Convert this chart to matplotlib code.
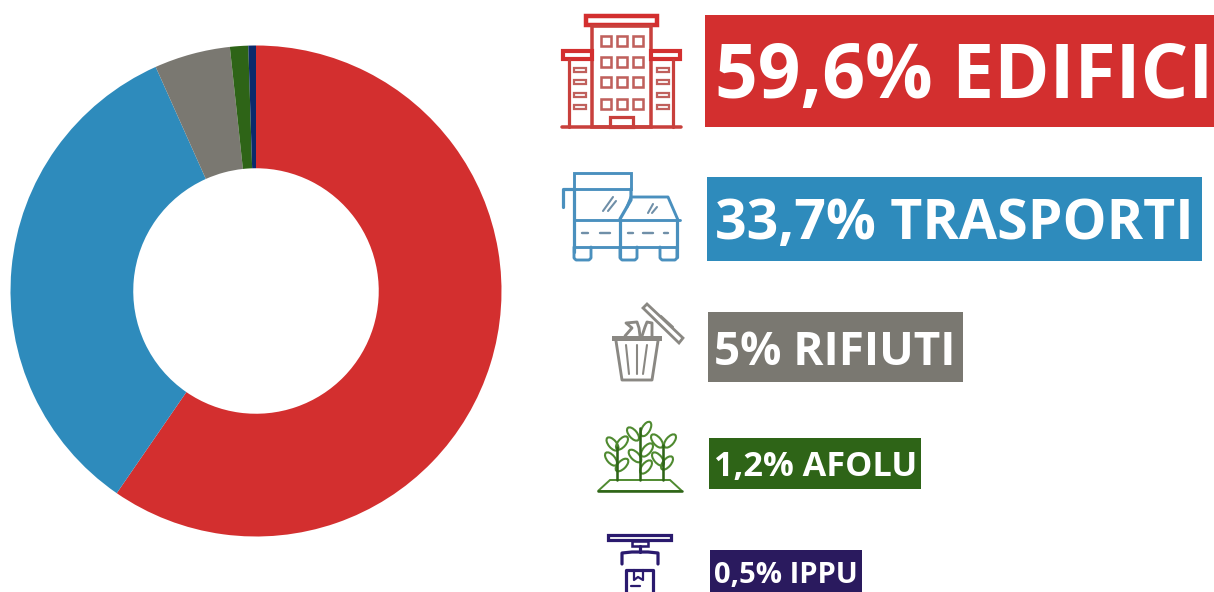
import matplotlib
matplotlib.use("Agg")
import matplotlib.pyplot as plt
from matplotlib.patches import Rectangle, Polygon, Ellipse

categories = ["EDIFICI", "TRASPORTI", "RIFIUTI", "AFOLU", "IPPU"]
values = [59.6, 33.7, 5, 1.2, 0.5]
value_labels = ["59,6%", "33,7%", "5%", "1,2%", "0,5%"]
pie_colors = ["#D32F2F", "#2E8BBC", "#7A7871", "#2E6417", "#0B2A6B"]
box_colors = ["#D32F2F", "#2E8BBC", "#7A7871", "#2E6417", "#2A1A5E"]
font_sizes = [54, 39.9, 33, 24.7, 21]
# label boxes in pixels: left, top, right, bottom, text left, text centre
boxes = [(705, 15, 1214, 127, 715, 70), (707, 177, 1202, 261, 715, 218), (708, 312, 963, 382, 714, 347),
         (709, 438, 921, 489, 714, 463.5), (710, 550, 862, 592, 714, 572)]

W, H = 1214, 592
plt.rcParams['font.family'] = ['Open Sans', 'DejaVu Sans']
fig = plt.figure(figsize=(W / 100, H / 100), dpi=100, facecolor="white")

# donut
cx, cy, r = 256, 291, 245.5
ax = fig.add_axes([(cx - r) / W, 1 - (cy + r) / H, 2 * r / W, 2 * r / H])
ax.pie(values, colors=pie_colors, startangle=90, counterclock=False, radius=1,
       wedgeprops=dict(width=0.5, linewidth=0))
ax.set_xlim(-1, 1); ax.set_ylim(-1, 1)
ax.set_aspect("auto")

# pixel overlay
ov = fig.add_axes([0, 0, 1, 1], facecolor="none")
ov.set_xlim(0, W); ov.set_ylim(H, 0); ov.axis("off")

for (x0, y0, x1, y1, tx, ty), col, fs, lab, cat in zip(boxes, box_colors, font_sizes, value_labels, categories):
    ov.add_patch(Rectangle((x0, y0), x1 - x0, y1 - y0, fc=col, ec="none"))
    ov.text(tx, ty, f"{lab} {cat}", color="white", fontsize=fs, fontweight="bold",
            va="center_baseline", ha="left")

K = 1.15


def line(pts, col, lw=2.0):
    xs, ys = zip(*pts)
    ov.plot(xs, ys, color=col, lw=lw * K, solid_capstyle="round", solid_joinstyle="round")


def rect(x0, y0, x1, y1, col, lw=2.0):
    ov.add_patch(Rectangle((x0, y0), x1 - x0, y1 - y0, fc="none", ec=col, lw=lw * K))


# building icon
c = "#C8403C"
rect(586, 16, 657, 25, "#D32F2F", 2.8)
rect(592, 26, 651, 127, c, 2.2)
rect(563, 51, 592, 59, "#D32F2F", 2.6)
rect(651, 51, 680, 59, "#D32F2F", 2.6)
line([(569, 60), (569, 127)], c)
line([(673, 60), (673, 127)], c)
line([(562, 126.5), (681, 126.5)], c, 2.2)
for wx in (601, 617, 633):
    for wy in (36, 57, 77, 99):
        rect(wx, wy, wx + 9.5, wy + 10, "#C0605C", 1.6)
for wx in (574, 657):
    for wy in (68, 80, 93, 105):
        rect(wx, wy, wx + 12, wy + 4, "#C0605C", 1.4)
rect(610, 117, 633, 127, c, 2)

# vehicles icon
c = "#4A90BE"
rect(574, 173, 631, 189, c, 1.8)
line([(574, 189), (574, 252)], c, 2)
line([(563, 207), (563, 189), (574, 189)], c, 2)
line([(631, 189), (631, 200), (620, 219)], c, 2)
line([(574, 220), (680, 220)], c, 1.8)
line([(620, 220), (620, 257)], c, 2)
line([(627, 207), (631, 197), (668, 197), (678, 220)], c, 1.8)
line([(677, 220), (677, 257)], c, 2)
line([(574, 247), (677, 247)], c, 1.8)
for wx in (574, 620, 660):
    line([(wx, 247), (wx, 258), (wx + 2, 260), (wx + 15, 260), (wx + 17, 258), (wx + 17, 247)], c, 1.8)
for a, b in ((582, 588), (600, 610), (628, 633), (643, 653), (664, 668)):
    line([(a, 233), (b, 233)], "#6F8FA8", 1.5)
line([(603, 211), (613, 197)], "#6F8FA8", 1.3)
line([(608, 211), (616, 201)], "#6F8FA8", 1.3)
line([(648, 213), (653, 204)], "#6F8FA8", 1.3)
line([(652, 213), (657, 207)], "#6F8FA8", 1.3)

# bin icon
c = "#8A8883"
ov.add_patch(Rectangle((612, 336), 50, 5, fc=c, ec="none"))
line([(616, 341), (622, 380), (652, 380), (658, 341)], c, 1.8)
line([(626, 345), (629, 374)], c, 1.3)
line([(637, 345), (637, 374)], c, 1.3)
line([(647, 345), (643, 374)], c, 1.3)
ov.add_patch(Polygon([(643, 308), (647, 304), (683, 338), (679, 343)], closed=True, fc="none", ec=c, lw=2))
line([(661, 316), (673, 327)], c, 1.3)
line([(625, 336), (632, 328), (626, 323), (637, 322), (639, 328), (640, 336)], c, 1.8)
line([(642, 336), (645, 327), (647, 322), (652, 323), (652, 336)], c, 1.8)

# plants icon
c = "#4F8A30"
leaves = [(612.5, 444, 50), (622, 443, -50), (611, 459, 50), (622, 465, -45),
          (646, 429, -60), (633, 434, 50), (647, 450, -50), (635, 456, 45), (646, 467, -50),
          (657, 441, 50), (670, 441, -50), (658, 459, 50), (667, 463, -50)]
for lx, ly, ang in leaves:
    ov.add_patch(Ellipse((lx, ly), 16, 8, angle=ang, fc="none", ec=c, lw=1.5))
ov.add_patch(Polygon([(598, 491), (610, 480), (670, 480), (682, 491)], closed=True, fc="none", ec=c, lw=1.4))
line([(598, 491), (682, 491)], "#2E6417", 1.6)
for sx, top in ((617, 447), (640, 428), (663, 445)):
    line([(sx, 480), (sx, top)], "#2E6417", 1.6)

# IPPU icon
c = "#2A1A6E"
rect(608, 535, 671, 540, c, 2)
rect(632, 541, 648, 546, c, 1.6)
line([(640, 546), (640, 552)], c, 2)
line([(622, 564), (622, 553), (632, 552), (648, 552), (658, 553), (658, 564)], c, 2)
line([(626, 592), (626, 570), (653, 570), (653, 592)], c, 2)
line([(634, 570), (634, 580), (638, 577), (643, 580), (643, 570)], c, 1.4)
line([(631, 586), (640, 586)], c, 1.4)

fig.savefig("out.png", dpi=100, facecolor="white")
